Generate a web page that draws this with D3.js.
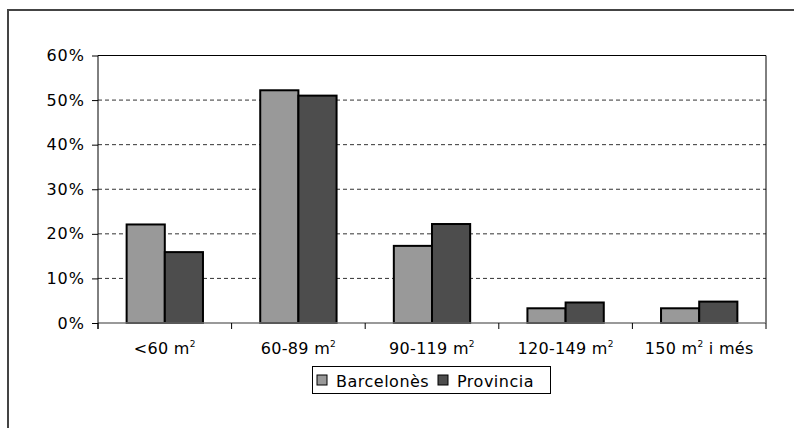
<!DOCTYPE html>
<html><head><meta charset="utf-8">
<script src="https://cdn.jsdelivr.net/npm/d3@7"></script>
<style>body{margin:0;background:#fff}svg{display:block}text{font-family:"DejaVu Sans",sans-serif;fill:#000}</style>
</head><body>
<svg id="c" width="794" height="428"></svg>
<script>
const categories = ["<60 m", "60-89 m", "90-119 m", "120-149 m", "150 m"];
const categorySuffix = ["", "", "", "", " i més"];
const seriesNames = ["Barcelonès", "Provincia"];
const barcelones = [22.1, 52.2, 17.3, 3.3, 3.3];
const provincia = [15.9, 51.0, 22.2, 4.6, 4.8];
const yTicks = [0, 10, 20, 30, 40, 50, 60];
const colors = ["#999999", "#4d4d4d"];

const svg = d3.select("#c");
// outer frame
svg.append("rect").attr("x", 8).attr("y", 10).attr("width", 900).attr("height", 600)
  .attr("fill", "none").attr("stroke", "#444").attr("stroke-width", 2);

const L = 98, R = 766, T = 55.5, B = 323;
const x0 = d3.scaleBand().domain(categories).range([L, R]).paddingInner(0).paddingOuter(0);
const x1 = d3.scaleBand().domain(seriesNames).range([0, x0.bandwidth()]).paddingInner(0).paddingOuter(0.75);
const y = d3.scaleLinear().domain([0, 60]).range([B, T]);

// gridlines
svg.append("g").selectAll("line").data(yTicks.filter(d => d > 0 && d < 60)).join("line")
  .attr("x1", L).attr("x2", R).attr("y1", d => y(d)).attr("y2", d => y(d))
  .attr("stroke", "#333").attr("stroke-width", 1).attr("stroke-dasharray", "4,3");

// top & right border
svg.append("line").attr("x1", L).attr("x2", R).attr("y1", y(60)).attr("y2", y(60)).attr("stroke", "#000");
svg.append("line").attr("x1", R).attr("x2", R).attr("y1", y(60)).attr("y2", B).attr("stroke", "#000");

// bars
const data = categories.map((c, i) => ({c, vals: [barcelones[i], provincia[i]]}));
const g = svg.append("g");
data.forEach(d => {
  d.vals.forEach((v, j) => {
    g.append("rect")
      .attr("x", x0(d.c) + x1(seriesNames[j]))
      .attr("y", y(v))
      .attr("width", x1.bandwidth())
      .attr("height", y(0) - y(v))
      .attr("fill", colors[j]).attr("stroke", "#000").attr("stroke-width", 2);
  });
});

// x baseline
svg.append("line").attr("x1", L).attr("x2", R).attr("y1", B).attr("y2", B).attr("stroke", "#777").attr("stroke-width", 1.5);

// y axis
const yAxis = d3.axisLeft(y).tickValues(yTicks).tickFormat(d => d + "%").tickSize(6).tickPadding(7);
const ya = svg.append("g").attr("transform", `translate(${L},0)`).call(yAxis);
ya.select(".domain").remove();
ya.append("line").attr("x1", 0).attr("x2", 0).attr("y1", y(60)).attr("y2", B + 6).attr("stroke", "#000");
ya.selectAll(".tick line").attr("stroke", "#000");
ya.selectAll("text").style("font-size", "16px").style("font-family", "DejaVu Sans")
  .style("letter-spacing", "1px").attr("fill", "#000");

// x ticks at category boundaries
const bounds = categories.map(c => x0(c)).concat([R]);
svg.append("g").selectAll("line").data(bounds).join("line")
  .attr("x1", d => d).attr("x2", d => d).attr("y1", B).attr("y2", B + 6).attr("stroke", "#000");

// category labels
const lab = svg.append("g").selectAll("text").data(categories).join("text")
  .attr("x", d => x0(d) + x0.bandwidth() / 2).attr("y", 354)
  .attr("text-anchor", "middle").style("font-size", "16px").style("letter-spacing", "0.3px");
lab.each(function(d, i) {
  const t = d3.select(this);
  t.append("tspan").text(d);
  t.append("tspan").text("2").attr("dy", -7).style("font-size", "9px");
  if (categorySuffix[i]) t.append("tspan").text(categorySuffix[i]).attr("dy", 7);
});

// legend
const lg = svg.append("g");
lg.append("rect").attr("x", 312.5).attr("y", 366.5).attr("width", 238).attr("height", 27)
  .attr("fill", "#fff").attr("stroke", "#000");
const lx = [317, 438];
seriesNames.forEach((s, j) => {
  lg.append("rect").attr("x", lx[j]).attr("y", 375).attr("width", 10).attr("height", 10)
    .attr("fill", colors[j]).attr("stroke", "#000").attr("stroke-width", 1);
  lg.append("text").attr("x", lx[j] + 19).attr("y", 387).text(s)
    .style("font-size", "16px").style("letter-spacing", "0.5px");
});
</script>
</body></html>
